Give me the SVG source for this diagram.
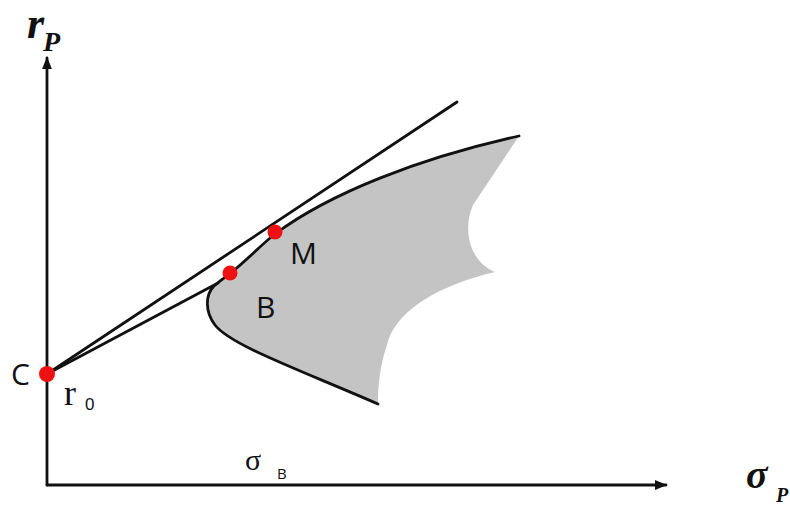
<svg xmlns="http://www.w3.org/2000/svg" width="790" height="505" viewBox="0 0 790 505">
<defs>
<style>
.ln{fill:none;stroke:#111;stroke-width:2.8;stroke-linecap:round;stroke-linejoin:round}
.dot{fill:#ee1111}
.lbl{font-family:"Open Sans","Liberation Sans",sans-serif;fill:#111}
.ax{font-family:"Liberation Serif",serif;font-weight:bold;font-style:italic;fill:#111}
</style>
<marker id="arr" viewBox="0 0 10 10" refX="9" refY="5" markerWidth="4.5" markerHeight="4.5" orient="auto" markerUnits="strokeWidth">
<path d="M0,1 L10,5 L0,9 Z" fill="#111"/>
</marker>
</defs>
<rect width="790" height="505" fill="#fff"/>
<g id="region">
<path d="M378,404 C300,370 230,345 215,325 C205,312 205,295 214,286 C222,279 227,276 232,272 C248,259 262,244 275,234 C330,193 420,158 519,136 L473,205 C462,230 470,262 495,272 C440,285 395,310 387,345 C380,365 378,385 378,404 Z" fill="#c4c4c4"/>
<path class="ln" d="M378,404 C300,370 230,345 215,325 C205,312 205,295 214,286 C222,279 227,276 232,272 C248,259 262,244 275,234 C330,193 420,158 519,136"/>
</g>
<g id="connectors">
<line class="ln" x1="47" y1="485" x2="47" y2="58" marker-end="url(#arr)"/>
<line class="ln" x1="47" y1="485" x2="666" y2="485" marker-end="url(#arr)"/>
<line class="ln" x1="47" y1="374" x2="457" y2="102"/>
<line class="ln" x1="47" y1="374" x2="218" y2="283"/>
</g>
<g id="axis-r">
<text class="ax" x="27" y="38" font-size="44">r</text>
<text class="ax" x="43" y="51" font-size="28">P</text>
</g>
<g id="axis-sigma">
<text class="ax" x="746" y="488" font-size="40">σ</text>
<text class="ax" x="776" y="502" font-size="20">P</text>
</g>
<g id="C">
<circle class="dot" cx="47" cy="374" r="8"/>
<text class="lbl" x="11" y="385" font-size="30">C</text>
<text x="64" y="405" font-family="'Liberation Serif',serif" font-size="36" fill="#111">r</text>
<text x="85" y="410" font-family="'Liberation Sans',sans-serif" font-size="17" fill="#111">0</text>
</g>
<g id="B">
<circle class="dot" cx="230" cy="273" r="7.5"/>
<text class="lbl" x="256" y="318" font-size="30">B</text>
</g>
<g id="M">
<circle class="dot" cx="275" cy="232" r="7.5"/>
<text class="lbl" x="290" y="264" font-size="30">M</text>
</g>
<g id="sigmaB">
<text x="245" y="470" font-family="'Liberation Serif',serif" font-size="30" fill="#111">σ</text>
<text class="lbl" x="277" y="479" font-size="15">B</text>
</g>
</svg>
